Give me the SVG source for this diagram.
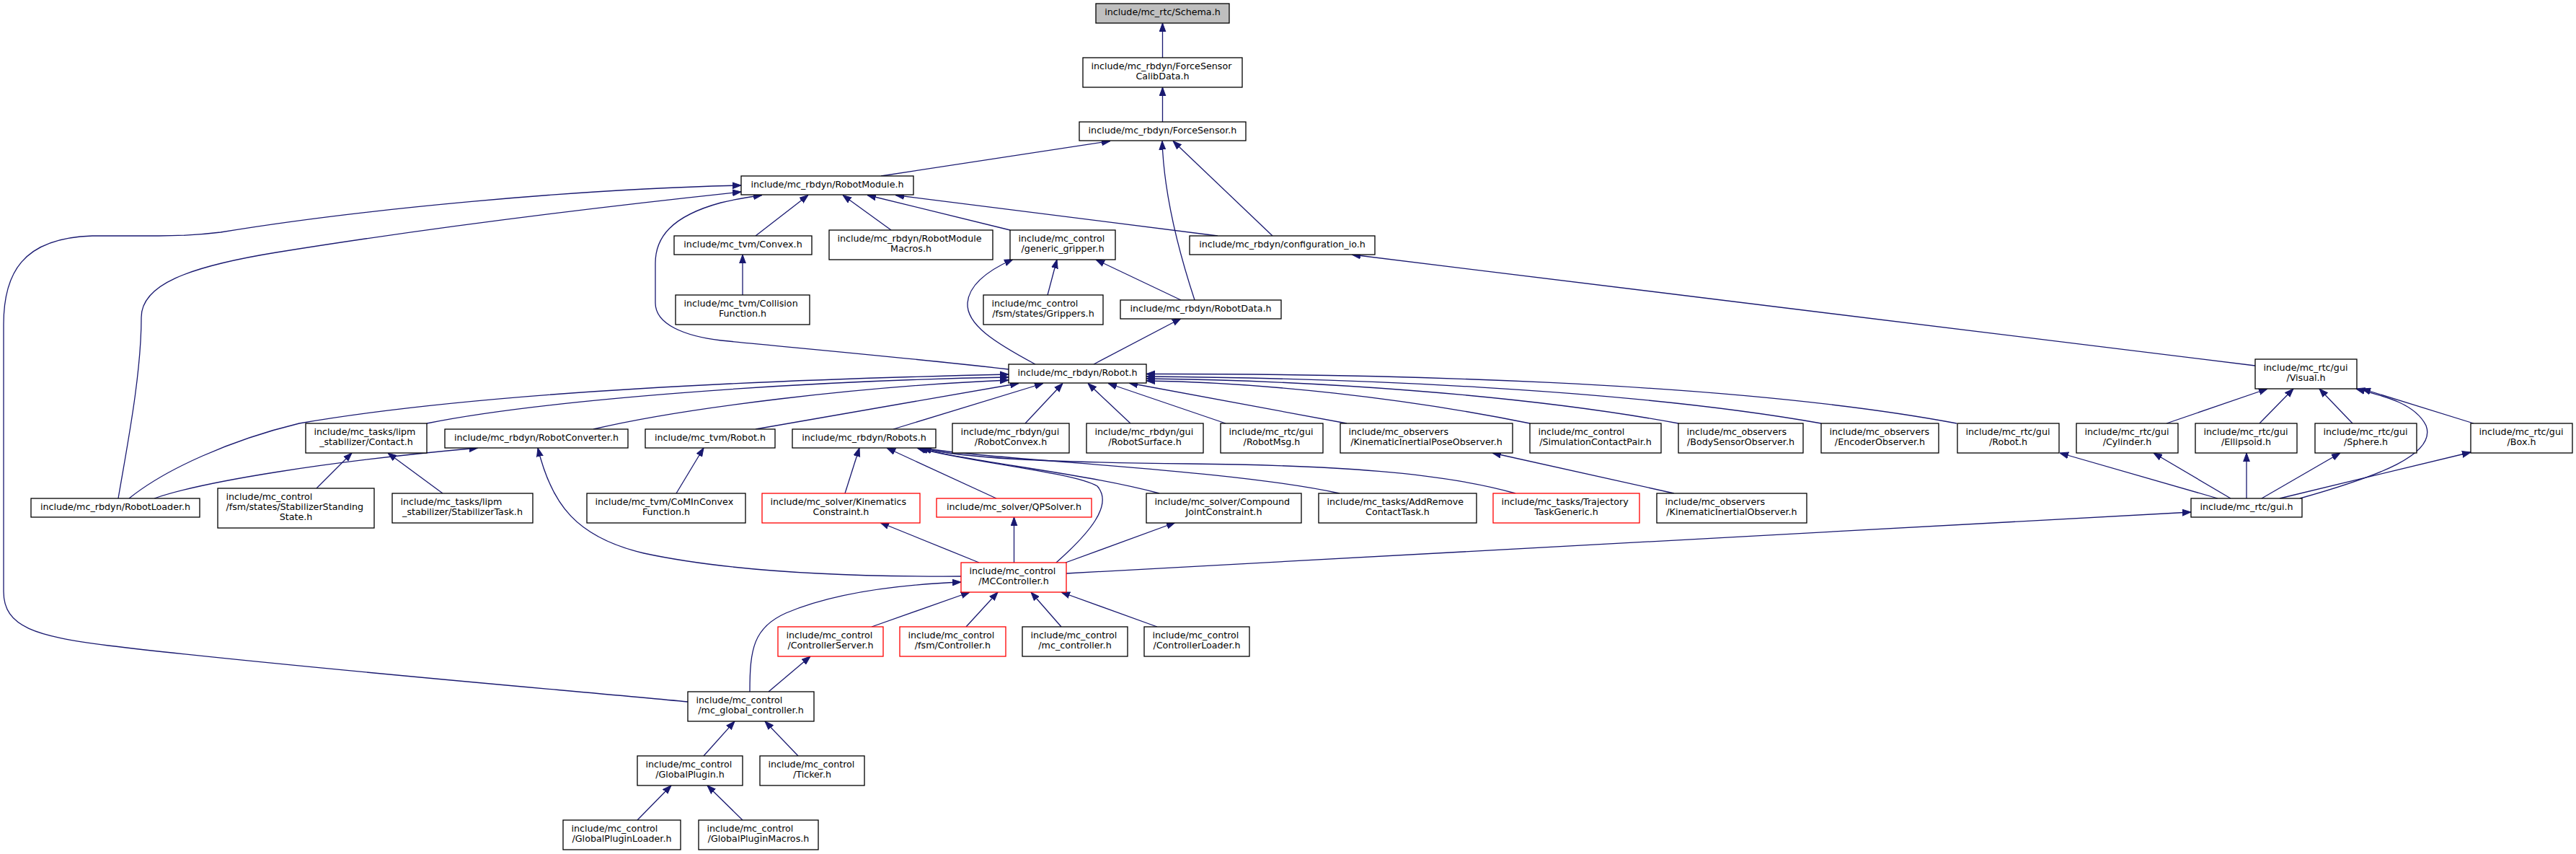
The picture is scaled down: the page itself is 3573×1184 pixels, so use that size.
<svg xmlns="http://www.w3.org/2000/svg" width="3573" height="1184" viewBox="0 0 3573 1184">
<style>
rect{fill:#fff;stroke:#000;stroke-width:1.3}
rect.root{fill:#bfbfbf}
rect.red{stroke:#f00}
text{font-family:"DejaVu Sans",sans-serif;font-size:12.7px;fill:#000}
text.c{text-anchor:middle}
#edges path{fill:none;stroke:#191970;stroke-width:1.3;marker-end:url(#ah)}
</style>
<defs>
<marker id="ah" viewBox="0 0 12 10" refX="12" refY="5" markerWidth="12" markerHeight="10" markerUnits="userSpaceOnUse" orient="auto">
<path d="M0,0.6 L12,5 L0,9.4 z" fill="#191970" stroke="#191970" stroke-width="1"/>
</marker>
</defs>
<rect x="0" y="0" width="3573" height="1184" style="fill:#fff;stroke:none"/>
<g id="edges">
<path d="M1612.5,80 L1612.5,32"/>
<path d="M1612.5,169 L1612.5,121"/>
<path d="M1222,244 L1540,195.5"/>
<path d="M1657,416 C1632,340 1614,260 1612,195.5"/>
<path d="M1765,327 L1627,195.5"/>
<path d="M1048,327 L1121,270.5"/>
<path d="M1236,319 L1169,270.5"/>
<path d="M1401,319 L1203,270.5"/>
<path d="M1689,327 L1242,270.5"/>
<path d="M1030,409 L1030,353"/>
<path d="M1399,512 C1250,495 1100,482 1000,472 C950,466 909,450 909,420 L909,365 C909,330 930,300 1000,281 C1020,276 1040,273 1057,270.5"/>
<path d="M164,691 C176,620 196,520 196,440 C196,395 260,370 383,350 C600,315 850,285 1028,266"/>
<path d="M954,973 C800,958 400,925 150,895 C50,882 5,870 5,820 L5,450 C5,380 30,330 128,327 L220,327 C260,327 290,324 306,322 C500,290 800,262 1028,257"/>
<path d="M1436,505 C1380,475 1340,450 1342,420 C1344,395 1370,375 1405,359.5"/>
<path d="M1453,409 L1466,360"/>
<path d="M1638,416 L1520,360"/>
<path d="M1517,505 L1638,441.5"/>
<path d="M3128,507 L1875,353"/>
<path d="M179,691 C230,650 320,610 415,587 C600,555 900,530 1399,519"/>
<path d="M592,587 C750,555 1100,528 1399,523"/>
<path d="M823,595 C950,565 1200,535 1399,527"/>
<path d="M1048,595 L1413,531.5"/>
<path d="M1239,595 L1447,531.5"/>
<path d="M1422,587 L1474,531.5"/>
<path d="M1568,587 L1509,531.5"/>
<path d="M1700,587 L1537,531.5"/>
<path d="M1868,587 L1566,531"/>
<path d="M2122,587 C1950,552 1750,530 1590,528"/>
<path d="M2328,587 C2100,545 1800,527 1590,525"/>
<path d="M2526,587 C2250,538 1850,524 1590,522"/>
<path d="M2714,587 C2400,528 1900,518 1590,518.5"/>
<path d="M1172,684 L1192,621"/>
<path d="M1382,691 L1230,621"/>
<path d="M1465,780 C1510,740 1545,700 1522,674 C1490,655 1340,640 1272,621"/>
<path d="M1608,684 C1500,655 1340,640 1275,621"/>
<path d="M1858,684 C1700,650 1400,640 1278,621"/>
<path d="M2102,684 C2000,655 1850,645 1650,643 C1450,641 1330,635 1280,621"/>
<path d="M1358,780 L1221,724.5"/>
<path d="M1406.5,780 L1406.5,717"/>
<path d="M1478,780 L1630,724.5"/>
<path d="M1479,795 L3039,710"/>
<path d="M1333,799 C1150,800 1000,790 893,767 C800,745 765,700 746,621"/>
<path d="M1209,869 L1345,821"/>
<path d="M1340,869 L1384,821"/>
<path d="M1472,869 L1430,821"/>
<path d="M1605,869 L1472,821"/>
<path d="M1040,959 C1040,900 1045,870 1090,850 C1160,820 1260,810 1333,807"/>
<path d="M1066,959 L1124,910"/>
<path d="M976,1048 L1019,1000"/>
<path d="M1107,1048 L1061,1000"/>
<path d="M884,1137 L931,1089"/>
<path d="M1030,1137 L981,1089"/>
<path d="M439,677 L488,628"/>
<path d="M614,684 L538,628"/>
<path d="M214,691 C280,668 450,640 663,621"/>
<path d="M938,684 L976,621"/>
<path d="M2322,684 L2070,628"/>
<path d="M3005,587 L3145,539"/>
<path d="M3134,587 L3181,539"/>
<path d="M3263,587 L3217,539"/>
<path d="M3431,587 L3276,539"/>
<path d="M3190,691 C3300,660 3380,630 3365,590 C3350,560 3310,550 3268,539"/>
<path d="M3076,691 L2857,628"/>
<path d="M3094,691 L2987,628"/>
<path d="M3116,691 L3116,628"/>
<path d="M3137,691 L3246,628"/>
<path d="M3162,691 L3427,627"/>
</g>
<g id="schema"><rect class="root" x="1520" y="5" width="185" height="27"/><text class="c" x="1612.5" y="21.3">include/mc_rtc/Schema.h</text></g>
<g id="calib"><rect x="1502" y="80" width="221" height="41"/><text x="1513.5" y="96.3">include/mc_rbdyn/ForceSensor</text><text class="c" x="1612.5" y="110.3">CalibData.h</text></g>
<g id="forcesensor"><rect x="1497" y="169" width="231" height="26"/><text class="c" x="1612.5" y="184.8">include/mc_rbdyn/ForceSensor.h</text></g>
<g id="robotmodule"><rect x="1028" y="244" width="239" height="26"/><text class="c" x="1147.5" y="259.8">include/mc_rbdyn/RobotModule.h</text></g>
<g id="convex"><rect x="935" y="327" width="191" height="26"/><text class="c" x="1030.5" y="342.8">include/mc_tvm/Convex.h</text></g>
<g id="macros"><rect x="1150" y="319" width="227" height="41"/><text x="1161.5" y="335.3">include/mc_rbdyn/RobotModule</text><text class="c" x="1263.5" y="349.3">Macros.h</text></g>
<g id="gripper"><rect x="1401" y="319" width="146" height="41"/><text x="1412.5" y="335.3">include/mc_control</text><text class="c" x="1474" y="349.3">/generic_gripper.h</text></g>
<g id="configio"><rect x="1650" y="327" width="257" height="26"/><text class="c" x="1778.5" y="342.8">include/mc_rbdyn/configuration_io.h</text></g>
<g id="collision"><rect x="937" y="409" width="186" height="41"/><text x="948.5" y="425.3">include/mc_tvm/Collision</text><text class="c" x="1030" y="439.3">Function.h</text></g>
<g id="grippers"><rect x="1364" y="409" width="166" height="41"/><text x="1375.5" y="425.3">include/mc_control</text><text class="c" x="1447" y="439.3">/fsm/states/Grippers.h</text></g>
<g id="robotdata"><rect x="1554" y="416" width="223" height="26"/><text class="c" x="1665.5" y="431.8">include/mc_rbdyn/RobotData.h</text></g>
<g id="robot"><rect x="1399" y="505" width="191" height="26"/><text class="c" x="1494.5" y="520.8">include/mc_rbdyn/Robot.h</text></g>
<g id="visual"><rect x="3128" y="498" width="141" height="41"/><text x="3139.5" y="514.3">include/mc_rtc/gui</text><text class="c" x="3198.5" y="528.3">/Visual.h</text></g>
<g id="contact"><rect x="424" y="587" width="168" height="41"/><text x="435.5" y="603.3">include/mc_tasks/lipm</text><text class="c" x="508" y="617.3">_stabilizer/Contact.h</text></g>
<g id="converter"><rect x="617" y="595" width="254" height="26"/><text class="c" x="744" y="610.8">include/mc_rbdyn/RobotConverter.h</text></g>
<g id="tvmrobot"><rect x="895" y="595" width="180" height="26"/><text class="c" x="985" y="610.8">include/mc_tvm/Robot.h</text></g>
<g id="robots"><rect x="1099" y="595" width="199" height="26"/><text class="c" x="1198.5" y="610.8">include/mc_rbdyn/Robots.h</text></g>
<g id="robotconvex"><rect x="1321" y="587" width="162" height="41"/><text x="1332.5" y="603.3">include/mc_rbdyn/gui</text><text class="c" x="1402" y="617.3">/RobotConvex.h</text></g>
<g id="robotsurface"><rect x="1507" y="587" width="162" height="41"/><text x="1518.5" y="603.3">include/mc_rbdyn/gui</text><text class="c" x="1588" y="617.3">/RobotSurface.h</text></g>
<g id="robotmsg"><rect x="1693" y="587" width="142" height="41"/><text x="1704.5" y="603.3">include/mc_rtc/gui</text><text class="c" x="1764" y="617.3">/RobotMsg.h</text></g>
<g id="kipo"><rect x="1859" y="587" width="239" height="41"/><text x="1870.5" y="603.3">include/mc_observers</text><text class="c" x="1978.5" y="617.3">/KinematicInertialPoseObserver.h</text></g>
<g id="simcontact"><rect x="2122" y="587" width="182" height="41"/><text x="2133.5" y="603.3">include/mc_control</text><text class="c" x="2213" y="617.3">/SimulationContactPair.h</text></g>
<g id="bodysensor"><rect x="2328" y="587" width="173" height="41"/><text x="2339.5" y="603.3">include/mc_observers</text><text class="c" x="2414.5" y="617.3">/BodySensorObserver.h</text></g>
<g id="encoder"><rect x="2526" y="587" width="163" height="41"/><text x="2537.5" y="603.3">include/mc_observers</text><text class="c" x="2607.5" y="617.3">/EncoderObserver.h</text></g>
<g id="guirobot"><rect x="2715" y="587" width="141" height="41"/><text x="2726.5" y="603.3">include/mc_rtc/gui</text><text class="c" x="2785.5" y="617.3">/Robot.h</text></g>
<g id="cylinder"><rect x="2880" y="587" width="141" height="41"/><text x="2891.5" y="603.3">include/mc_rtc/gui</text><text class="c" x="2950.5" y="617.3">/Cylinder.h</text></g>
<g id="ellipsoid"><rect x="3045" y="587" width="141" height="41"/><text x="3056.5" y="603.3">include/mc_rtc/gui</text><text class="c" x="3115.5" y="617.3">/Ellipsoid.h</text></g>
<g id="sphere"><rect x="3211" y="587" width="141" height="41"/><text x="3222.5" y="603.3">include/mc_rtc/gui</text><text class="c" x="3281.5" y="617.3">/Sphere.h</text></g>
<g id="box"><rect x="3427" y="587" width="141" height="41"/><text x="3438.5" y="603.3">include/mc_rtc/gui</text><text class="c" x="3497.5" y="617.3">/Box.h</text></g>
<g id="loader"><rect x="43" y="691" width="234" height="26"/><text class="c" x="160" y="706.8">include/mc_rbdyn/RobotLoader.h</text></g>
<g id="standing"><rect x="302" y="677" width="217" height="55"/><text x="313.5" y="693.3">include/mc_control</text><text x="313.5" y="707.3">/fsm/states/StabilizerStanding</text><text class="c" x="410.5" y="721.3">State.h</text></g>
<g id="stabtask"><rect x="544" y="684" width="195" height="41"/><text x="555.5" y="700.3">include/mc_tasks/lipm</text><text class="c" x="641.5" y="714.3">_stabilizer/StabilizerTask.h</text></g>
<g id="cominconvex"><rect x="814" y="684" width="220" height="41"/><text x="825.5" y="700.3">include/mc_tvm/CoMInConvex</text><text class="c" x="924" y="714.3">Function.h</text></g>
<g id="kinconstraint"><rect class="red" x="1057" y="684" width="219" height="41"/><text x="1068.5" y="700.3">include/mc_solver/Kinematics</text><text class="c" x="1166.5" y="714.3">Constraint.h</text></g>
<g id="qpsolver"><rect class="red" x="1299" y="691" width="215" height="26"/><text class="c" x="1406.5" y="706.8">include/mc_solver/QPSolver.h</text></g>
<g id="compound"><rect x="1590" y="684" width="215" height="41"/><text x="1601.5" y="700.3">include/mc_solver/Compound</text><text class="c" x="1697.5" y="714.3">JointConstraint.h</text></g>
<g id="addremove"><rect x="1829" y="684" width="219" height="41"/><text x="1840.5" y="700.3">include/mc_tasks/AddRemove</text><text class="c" x="1938.5" y="714.3">ContactTask.h</text></g>
<g id="trajectory"><rect class="red" x="2071" y="684" width="203" height="41"/><text x="2082.5" y="700.3">include/mc_tasks/Trajectory</text><text class="c" x="2172.5" y="714.3">TaskGeneric.h</text></g>
<g id="kio"><rect x="2298" y="684" width="208" height="41"/><text x="2309.5" y="700.3">include/mc_observers</text><text class="c" x="2402" y="714.3">/KinematicInertialObserver.h</text></g>
<g id="gui"><rect x="3039" y="691" width="154" height="26"/><text class="c" x="3116" y="706.8">include/mc_rtc/gui.h</text></g>
<g id="mccontroller"><rect class="red" x="1333" y="780" width="146" height="41"/><text x="1344.5" y="796.3">include/mc_control</text><text class="c" x="1406" y="810.3">/MCController.h</text></g>
<g id="ctrlserver"><rect class="red" x="1079" y="869" width="146" height="41"/><text x="1090.5" y="885.3">include/mc_control</text><text class="c" x="1152" y="899.3">/ControllerServer.h</text></g>
<g id="fsmctrl"><rect class="red" x="1248" y="869" width="147" height="41"/><text x="1259.5" y="885.3">include/mc_control</text><text class="c" x="1321.5" y="899.3">/fsm/Controller.h</text></g>
<g id="mcctrl"><rect x="1418" y="869" width="146" height="41"/><text x="1429.5" y="885.3">include/mc_control</text><text class="c" x="1491" y="899.3">/mc_controller.h</text></g>
<g id="ctrlloader"><rect x="1587" y="869" width="146" height="41"/><text x="1598.5" y="885.3">include/mc_control</text><text class="c" x="1660" y="899.3">/ControllerLoader.h</text></g>
<g id="globalctrl"><rect x="954" y="959" width="175" height="41"/><text x="965.5" y="975.3">include/mc_control</text><text class="c" x="1041.5" y="989.3">/mc_global_controller.h</text></g>
<g id="globalplugin"><rect x="884" y="1048" width="146" height="41"/><text x="895.5" y="1064.3">include/mc_control</text><text class="c" x="957" y="1078.3">/GlobalPlugin.h</text></g>
<g id="ticker"><rect x="1054" y="1048" width="145" height="41"/><text x="1065.5" y="1064.3">include/mc_control</text><text class="c" x="1126.5" y="1078.3">/Ticker.h</text></g>
<g id="gploader"><rect x="781" y="1137" width="163" height="41"/><text x="792.5" y="1153.3">include/mc_control</text><text class="c" x="862.5" y="1167.3">/GlobalPluginLoader.h</text></g>
<g id="gpmacros"><rect x="969" y="1137" width="166" height="41"/><text x="980.5" y="1153.3">include/mc_control</text><text class="c" x="1052" y="1167.3">/GlobalPluginMacros.h</text></g>
</svg>
